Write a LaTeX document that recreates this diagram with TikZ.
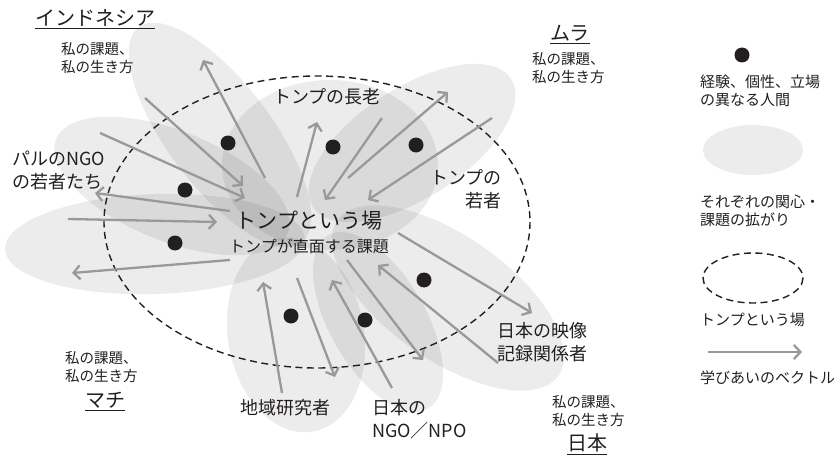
\documentclass[tikz,border=0pt]{standalone}
\usepackage{fontspec}
\setmainfont{Noto Sans CJK JP}
\usetikzlibrary{arrows.meta}
\definecolor{ink}{HTML}{231F20}
\definecolor{vecgray}{gray}{0.6}

\begin{document}
\begin{tikzpicture}[x=1pt, y=-1pt,
    patch/.style={fill=black, fill opacity=0.075},
    person/.style={circle, fill=ink, minimum size=15pt, inner sep=0pt},
    vec/.style={draw=vecgray, line width=2.3pt, -{Straight Barb[length=6.5pt, width=14pt]}},
    field/.style={draw=ink, line width=1.4pt, dash pattern=on 7pt off 4.5pt},
    actor/.style={font=\fontsize{18}{23}\selectfont, text=ink, inner sep=0pt},
    mine/.style={font=\fontsize{14.5}{18}\selectfont, text=ink, inner sep=0pt, align=left, anchor=west},
    place/.style={font=\fontsize{20}{24}\selectfont, text=ink, inner sep=0pt},
    key/.style={font=\fontsize{15}{18}\selectfont, text=ink, inner sep=0pt, align=left, anchor=west}]
    \useasboundingbox (0,0) rectangle (836,460);

    % spreads of concern
    \fill[patch, rotate around={-53:(220,135)}] (220,135) ellipse [x radius=135, y radius=52];
    \fill[patch, rotate around={-22:(172,186)}] (172,186) ellipse [x radius=125, y radius=55];
    \fill[patch, rotate around={2:(155,244)}] (155,244) ellipse [x radius=150, y radius=50];
    \fill[patch] (330,165) ellipse [x radius=108, y radius=85];
    \fill[patch, rotate around={33:(412,143)}] (412,143) ellipse [x radius=118, y radius=55];
    \fill[patch, rotate around={-35:(448,298)}] (448,298) ellipse [x radius=135, y radius=62];
    \fill[patch, rotate around={-60:(378,322)}] (378,322) ellipse [x radius=100, y radius=48];
    \fill[patch, rotate around={-80:(296,335)}] (296,335) ellipse [x radius=98, y radius=68];

    % the field
    \draw[field] (317,222) ellipse [x radius=213, y radius=146];

    % people
    \node[person] (p1) at (228,143) {};
    \node[person] (p2) at (185,190) {};
    \node[person] (p3) at (175,243) {};
    \node[person] (p4) at (333,147) {};
    \node[person] (p5) at (416,145) {};
    \node[person] (p6) at (424,280) {};
    \node[person] (p7) at (291,316) {};
    \node[person] (p8) at (365,320) {};

    % vectors of learning
    \draw[vec] (265,178) -- (203,60);
    \draw[vec] (145,98) -- (243,186);
    \draw[vec] (100,133) -- (245,198);
    \draw[vec] (230,211) -- (95,193);
    \draw[vec] (68,219) -- (217,222);
    \draw[vec] (230,260) -- (72,273);
    \draw[vec] (282,393) -- (263,282);
    \draw[vec] (297,278) -- (335,377);
    \draw[vec] (392,388) -- (332,280);
    \draw[vec] (347,260) -- (423,360);
    \draw[vec] (498,363) -- (378,265);
    \draw[vec] (398,233) -- (532,313);
    \draw[vec] (297,197) -- (317,122);
    \draw[vec] (382,118) -- (325,200);
    \draw[vec] (348,178) -- (448,92);
    \draw[vec] (492,118) -- (368,200);

    % places
    \node[place] (indonesia) at (95,18) {インドネシア};
    \node[place] (mura) at (570,33) {ムラ};
    \node[place] (machi) at (105,400) {マチ};
    \node[place] (nihon) at (587,443) {日本};
    \foreach \n in {indonesia,mura,machi,nihon}
        \draw[ink, line width=1.5pt] ([yshift=-2pt]\n.south west) -- ([yshift=-2pt]\n.south east);

    \node[mine] (m1) at (61,58) {私の課題、\\私の生き方};
    \node[mine] (m2) at (532,68) {私の課題、\\私の生き方};
    \node[mine] (m3) at (65,367) {私の課題、\\私の生き方};
    \node[mine] (m4) at (552,411) {私の課題、\\私の生き方};

    % actors
    \node[actor, anchor=west, align=left] (palu) at (12,170) {パルのNGO\\の若者たち};
    \node[actor] (elder) at (327,97) {トンプの長老};
    \node[actor, anchor=east, align=right] (youth) at (502,189) {トンプの\\若者};
    \node[actor, anchor=west, align=left] (film) at (497,342) {日本の映像\\記録関係者};
    \node[actor] (area) at (285,408) {地域研究者};
    \node[actor, anchor=west, align=left] (ngo) at (372,419) {日本の\\NGO／NPO};

    \node[font=\fontsize{21}{24}\selectfont, text=ink, inner sep=0pt] (tompu) at (309,221) {トンプという場};
    \node[font=\fontsize{16}{20}\selectfont, text=ink, inner sep=0pt] (issue) at (309,246) {トンプが直面する課題};

    % legend
    \node[person] (kdot) at (742,55) {};
    \node[key] (k1) at (700,91) {経験、個性、立場\\の異なる人間};
    \fill[black!7.5] (753,150) ellipse [x radius=50, y radius=25];
    \node[key] (k2) at (700,211) {それぞれの関心・\\課題の拡がり};
    \draw[field] (753,278) ellipse [x radius=50, y radius=25];
    \node[key] (k3) at (700,320) {トンプという場};
    \draw[vec] (708,352) -- (802,352);
    \node[key] (k4) at (700,378) {学びあいのベクトル};
\end{tikzpicture}
\end{document}
